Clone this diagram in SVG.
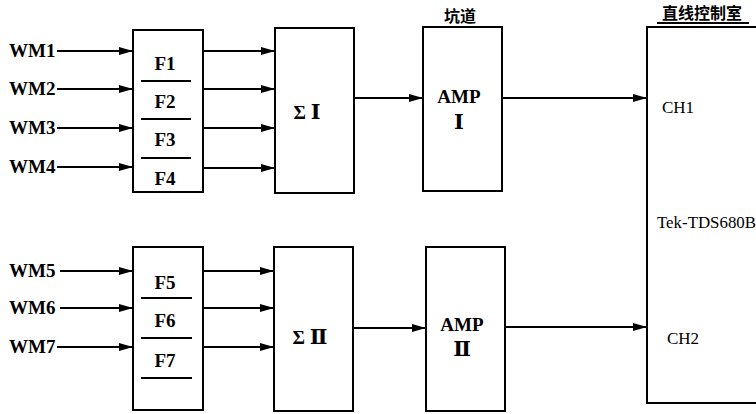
<svg xmlns="http://www.w3.org/2000/svg" width="756" height="414" viewBox="0 0 756 414">
<defs>
<marker id="ah" markerWidth="14" markerHeight="8" refX="14" refY="4" orient="auto" markerUnits="userSpaceOnUse">
<path d="M0,0 L14,4 L0,8 Z" fill="#000"/>
</marker>
<style>
.box{fill:#fff;stroke:#000;stroke-width:2}
.ln{stroke:#000;stroke-width:2;fill:none}
.sep{stroke:#000;stroke-width:2}
.arr{stroke:#000;stroke-width:2;fill:none;marker-end:url(#ah)}
.t{font-family:'Liberation Serif',serif;font-size:19px;font-weight:bold;fill:#000}
.f{font-family:'Liberation Serif',serif;font-size:19px;font-weight:bold;fill:#000;text-anchor:middle}
.rn{font-family:'DejaVu Serif',serif;font-weight:bold;font-size:21px}
.r{font-family:'Liberation Serif',serif;font-size:17px;fill:#000}
.cjk{font-family:'Noto Sans CJK SC',sans-serif;font-size:16px;font-weight:bold;fill:#000;text-anchor:middle}
</style>
</defs>
<rect width="756" height="414" fill="#fff"/>

<g id="inputs1">
<text class="t" x="9" y="57">WM1</text>
<text class="t" x="9" y="95">WM2</text>
<text class="t" x="9" y="134">WM3</text>
<text class="t" x="9" y="173">WM4</text>
</g>
<g id="inputs2">
<text class="t" x="9" y="277">WM5</text>
<text class="t" x="9" y="314">WM6</text>
<text class="t" x="9" y="353">WM7</text>
</g>

<g id="filter1">
<rect class="box" x="133" y="30" width="70" height="162"/>
<line class="sep" x1="141" y1="81" x2="191" y2="81"/>
<line class="sep" x1="141" y1="119" x2="191" y2="119"/>
<line class="sep" x1="141" y1="158" x2="191" y2="158"/>
<text class="f" x="165" y="70">F1</text>
<text class="f" x="165" y="108">F2</text>
<text class="f" x="165" y="146">F3</text>
<text class="f" x="165" y="185">F4</text>
</g>

<g id="filter2">
<rect class="box" x="133" y="247" width="70" height="163"/>
<line class="sep" x1="141" y1="298" x2="192" y2="298"/>
<line class="sep" x1="141" y1="338" x2="192" y2="338"/>
<line class="sep" x1="141" y1="378" x2="192" y2="378"/>
<text class="f" x="165" y="289">F5</text>
<text class="f" x="165" y="327">F6</text>
<text class="f" x="165" y="367">F7</text>
</g>

<g id="sum1">
<rect class="box" x="275" y="28" width="79" height="165"/>
<text class="f" x="307" y="119">Σ <tspan class="rn">Ⅰ</tspan></text>
</g>

<g id="sum2">
<rect class="box" x="274" y="247" width="79" height="164"/>
<text class="f" x="310" y="344">Σ <tspan class="rn">Ⅱ</tspan></text>
</g>

<g id="amp1">
<text class="cjk" x="460" y="22">坑道</text>
<rect class="box" x="423" y="27" width="79" height="164"/>
<text class="f" x="459" y="103">AMP</text>
<text class="f" x="459" y="129"><tspan class="rn">Ⅰ</tspan></text>
</g>

<g id="amp2">
<rect class="box" x="426" y="247" width="79" height="164"/>
<text class="f" x="462" y="331">AMP</text>
<text class="f" x="462" y="356"><tspan class="rn">Ⅱ</tspan></text>
</g>

<g id="scope">
<text class="cjk" x="702" y="19">直线控制室</text>
<line class="ln" x1="657" y1="23" x2="749" y2="23"/>
<rect class="box" x="647" y="27" width="130" height="376"/>
<text class="r" x="662" y="113">CH1</text>
<text class="r" x="657" y="228" style="font-size:16px" textLength="99" lengthAdjust="spacingAndGlyphs">Tek-TDS680B</text>
<text class="r" x="667" y="344">CH2</text>
</g>

<g id="connectors">
<line class="arr" x1="57" y1="51" x2="133" y2="51"/>
<line class="arr" x1="57" y1="89" x2="133" y2="89"/>
<line class="arr" x1="57" y1="128" x2="133" y2="128"/>
<line class="arr" x1="57" y1="167" x2="133" y2="167"/>
<line class="arr" x1="203" y1="51" x2="275" y2="51"/>
<line class="arr" x1="203" y1="89" x2="275" y2="89"/>
<line class="arr" x1="203" y1="128" x2="275" y2="128"/>
<line class="arr" x1="203" y1="168" x2="275" y2="168"/>
<line class="arr" x1="354" y1="98" x2="423" y2="98"/>
<line class="arr" x1="502" y1="98" x2="647" y2="98"/>
<line class="arr" x1="60" y1="271" x2="133" y2="271"/>
<line class="arr" x1="60" y1="308" x2="133" y2="308"/>
<line class="arr" x1="57" y1="347" x2="133" y2="347"/>
<line class="arr" x1="203" y1="271" x2="274" y2="271"/>
<line class="arr" x1="203" y1="308" x2="274" y2="308"/>
<line class="arr" x1="203" y1="347" x2="274" y2="347"/>
<line class="arr" x1="353" y1="328" x2="426" y2="328"/>
<line class="arr" x1="505" y1="327" x2="647" y2="327"/>
</g>
</svg>
